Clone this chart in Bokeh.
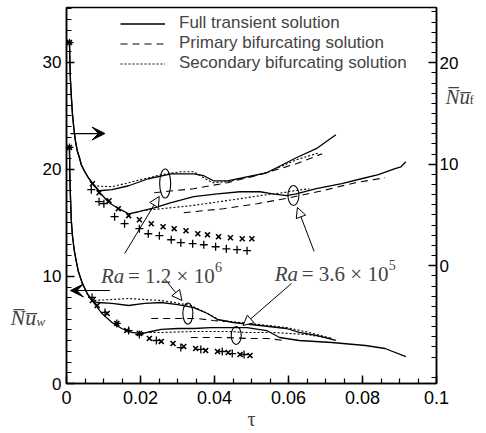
from bokeh.plotting import figure
from bokeh.models import (Range1d, LinearAxis, SingleIntervalTicker, FixedTicker,
                          CustomJSTickFormatter, Legend, LegendItem, Label,
                          Arrow, VeeHead, NormalHead)
from bokeh.embed import file_html
from bokeh.resources import INLINE

# ---------------- data ----------------
x_major_interval = 0.02
left_major_interval = 10
right_major_ticks = [0, 10, 20]
right_minor_ticks = [v for v in range(-11, 26) if v % 10 != 0]

# Nu_f (right axis) -- common early part of the full transient solution
nuf_common_tau = [0.0008, 0.00093, 0.00107, 0.00133, 0.0016, 0.002, 0.0024, 0.0029,
                  0.0035, 0.004, 0.0048, 0.0059, 0.0069]
nuf_common_val = [22.2, 20.0, 18.23, 16.55, 14.98, 13.5, 12.32, 11.33,
                  10.64, 9.95, 9.36, 8.67, 8.18]

# Ra = 1.2e6, Nu_f
nuf_full_hi_tau = [0.0088, 0.0123, 0.0168, 0.0221, 0.0283, 0.0344, 0.0371, 0.0397,
                   0.0435, 0.0477, 0.0541, 0.0621, 0.0675, 0.0728]
nuf_full_hi_val = [7.39, 7.49, 7.88, 8.57, 9.06, 9.06, 8.87, 8.37,
                   8.37, 8.67, 9.16, 10.64, 11.53, 12.91]
nuf_sec_hi_tau = [0.0072, 0.0123, 0.0168, 0.0256, 0.0309, 0.0344, 0.0371, 0.0395,
                  0.0435, 0.0541, 0.0621, 0.0683]
nuf_sec_hi_val = [7.88, 7.78, 8.18, 8.97, 9.26, 9.26, 8.67, 8.18,
                  8.28, 9.16, 10.44, 11.13]
nuf_pri_hi_tau = [0.0237, 0.0344, 0.0435, 0.0531, 0.0621, 0.0691]
nuf_pri_hi_val = [7.19, 7.59, 8.18, 9.06, 10.05, 11.03]

# Ra = 3.6e5, Nu_f
nuf_full_lo_tau = [0.0088, 0.0115, 0.0141, 0.0168, 0.0195, 0.0237, 0.0283, 0.0344,
                   0.0408, 0.0469, 0.0523, 0.0557, 0.0595, 0.0621, 0.0675, 0.0744,
                   0.0797, 0.0843, 0.0888, 0.0904, 0.0917]
nuf_full_lo_val = [7.29, 6.21, 5.62, 5.12, 5.32, 5.71, 6.21, 6.80,
                   7.09, 7.29, 7.29, 7.09, 6.90, 7.09, 7.59, 8.08,
                   8.57, 8.97, 9.56, 9.75, 10.25]
nuf_sec_lo_tau = [0.0203, 0.0229, 0.0336, 0.0469, 0.0541, 0.0584, 0.0616, 0.0656]
nuf_sec_lo_val = [5.42, 5.52, 5.91, 6.60, 7.00, 7.19, 7.39, 7.59]
nuf_pri_lo_tau = [0.0317, 0.0424, 0.0515, 0.0603, 0.0691, 0.0781, 0.0861]
nuf_pri_lo_val = [5.22, 5.62, 6.11, 6.70, 7.39, 8.18, 8.67]

# Nu_f symbols
nuf_x_tau = [0.0008, 0.007, 0.0088, 0.0115, 0.014, 0.0168, 0.0197, 0.0229, 0.0261,
             0.0291, 0.0323, 0.0355, 0.0381, 0.0411, 0.0443, 0.0475, 0.0501]
nuf_x_val = [22.0, 8.08, 7.19, 6.40, 5.62, 4.93, 4.53, 4.14, 3.84,
             3.65, 3.45, 3.15, 3.05, 2.86, 2.76, 2.66, 2.66]
nuf_p_tau = [0.0008, 0.0067, 0.0088, 0.0101, 0.013, 0.0157, 0.0197, 0.0221, 0.0251,
             0.0283, 0.0309, 0.0341, 0.0371, 0.0403, 0.0432, 0.0461, 0.0488]
nuf_p_val = [21.97, 7.49, 6.31, 6.11, 4.83, 4.14, 3.65, 3.15, 2.96,
             2.56, 2.27, 2.17, 2.07, 1.87, 1.67, 1.58, 1.48]

# Nu_w (left axis) -- common early part
nuw_common_tau = [0.0008, 0.0009, 0.0011, 0.0013, 0.0016, 0.0021, 0.0027, 0.0032,
                  0.0043, 0.0056, 0.0069]
nuw_common_val = [22.06, 19.44, 17.10, 15.23, 13.83, 12.43, 11.31, 10.47,
                  9.35, 8.41, 7.76]

# Ra = 1.2e6, Nu_w
nuw_full_hi_tau = [0.0083, 0.0123, 0.0168, 0.0211, 0.0256, 0.0301, 0.0344, 0.0381,
                   0.0408, 0.0451, 0.0523, 0.0595, 0.0629, 0.0675, 0.0728]
nuw_full_hi_val = [7.57, 7.48, 7.29, 7.48, 7.57, 7.38, 7.10, 6.54,
                   5.98, 5.70, 5.42, 5.14, 4.77, 4.49, 4.02]
nuw_sec_hi_tau = [0.0075, 0.0123, 0.0168, 0.0211, 0.0256, 0.0291, 0.0336, 0.0376,
                  0.0416, 0.0523, 0.0595, 0.0656, 0.0717]
nuw_sec_hi_val = [7.76, 7.85, 7.94, 7.85, 7.76, 7.57, 7.29, 6.64,
                  5.89, 5.51, 5.23, 4.77, 4.21]
nuw_pri_hi_tau = [0.0229, 0.0296, 0.0355, 0.0397, 0.0429]
nuw_pri_hi_val = [6.07, 6.07, 6.07, 5.89, 5.79]

# Ra = 3.6e5, Nu_w
nuw_full_lo_tau = [0.0096, 0.0123, 0.0149, 0.0176, 0.0203, 0.0229, 0.0256, 0.0301,
                   0.0344, 0.0389, 0.0435, 0.0488, 0.0541, 0.0576, 0.0629, 0.0717,
                   0.0808, 0.0861, 0.0917]
nuw_full_lo_val = [6.54, 5.70, 5.14, 4.77, 4.67, 4.86, 5.05, 5.14,
                   5.14, 5.23, 5.23, 5.23, 4.95, 4.30, 4.02, 3.83,
                   3.55, 3.27, 2.52]
nuw_sec_lo_tau = [0.0203, 0.0256, 0.0344, 0.0435, 0.0488, 0.0557, 0.0648, 0.0717]
nuw_sec_lo_val = [4.77, 4.77, 4.86, 4.86, 4.77, 4.77, 4.58, 4.21]
nuw_pri_lo_tau = [0.0336, 0.0424, 0.0488, 0.0541, 0.0589]
nuw_pri_lo_val = [4.30, 4.30, 4.21, 4.21, 4.02]

# Nu_w symbols
nuw_x_tau = [0.0008, 0.007, 0.0083, 0.011, 0.0136, 0.0163, 0.0197, 0.0224, 0.0256,
             0.0288, 0.0317, 0.0349, 0.0376, 0.0408, 0.0437, 0.0469, 0.0496]
nuw_x_val = [22.06, 7.76, 7.29, 6.54, 5.61, 4.95, 4.67, 4.21, 3.93,
             3.74, 3.46, 3.27, 3.08, 2.99, 2.90, 2.71, 2.62]
nuw_p_tau = [0.0008, 0.0069, 0.0104, 0.0136, 0.0168, 0.0197, 0.0243, 0.0309,
             0.0363, 0.0421, 0.0448, 0.048]
nuw_p_val = [22.06, 8.04, 6.64, 5.61, 4.95, 4.58, 4.02, 3.36,
             3.18, 2.99, 2.80, 2.71]

legend_labels = ["Full transient solution", "Primary bifurcating solution",
                 "Secondary bifurcating solution"]

# ---------------- figure ----------------
W, H = 486, 433
p = figure(width=W, height=H, output_backend="svg", toolbar_location=None,
           x_range=Range1d(0, 0.1), y_range=Range1d(0, 35.14),
           min_border_left=64, min_border_right=W - 439, min_border_top=7,
           min_border_bottom=H - 383, background_fill_color="white",
           border_fill_color="white")
p.extra_y_ranges = {"right": Range1d(-11.6, 25.44)}
p.grid.visible = False
p.outline_line_color = "black"
p.outline_line_width = 1.5

raxis = LinearAxis(y_range_name="right")
p.add_layout(raxis, "right")

xax = p.xaxis[0]
yax = p.yaxis[0]
xax.ticker = SingleIntervalTicker(interval=x_major_interval, num_minor_ticks=4)
xax.formatter = CustomJSTickFormatter(
    code="return tick.toFixed(2).replace(/0+$/, '').replace(/\\.$/, '');")
yax.ticker = SingleIntervalTicker(interval=left_major_interval, num_minor_ticks=10)
raxis.ticker = FixedTicker(ticks=right_major_ticks, minor_ticks=right_minor_ticks)

for ax in (xax, yax, raxis):
    ax.major_tick_in = 8
    ax.major_tick_out = 0
    ax.minor_tick_in = 5
    ax.minor_tick_out = 0
    ax.axis_line_width = 1.5
    ax.major_tick_line_width = 1.5
    ax.minor_tick_line_width = 1.2
    ax.major_label_text_font = "Liberation Sans"
    ax.major_label_text_font_size = "17px"
    ax.major_label_text_color = "black"
    ax.axis_line_color = "black"
    ax.major_tick_line_color = "black"
    ax.minor_tick_line_color = "black"
xax.major_label_text_font_size = "18px"
xax.major_label_standoff = 7
yax.major_label_standoff = 5
raxis.major_label_standoff = 3

LW = 1.3
SOLID = dict(line_color="black", line_width=LW)
DASH = dict(line_color="black", line_width=1.1, line_dash="7 5")
DOT = dict(line_color="black", line_width=1.1, line_dash="2 2")

# Nu_f curves (right axis)
r_full = p.line(nuf_common_tau + nuf_full_hi_tau, nuf_common_val + nuf_full_hi_val,
                y_range_name="right", **SOLID)
p.line(nuf_common_tau + nuf_full_lo_tau, nuf_common_val + nuf_full_lo_val,
       y_range_name="right", **SOLID)
r_dot = p.line(nuf_sec_hi_tau, nuf_sec_hi_val, y_range_name="right", **DOT)
p.line(nuf_sec_lo_tau, nuf_sec_lo_val, y_range_name="right", **DOT)
r_dash = p.line(nuf_pri_hi_tau, nuf_pri_hi_val, y_range_name="right", **DASH)
p.line(nuf_pri_lo_tau, nuf_pri_lo_val, y_range_name="right", **DASH)
p.scatter(nuf_x_tau, nuf_x_val, marker="x", size=7, line_color="black",
          line_width=1.6, y_range_name="right")
p.scatter(nuf_p_tau, nuf_p_val, marker="cross", size=8, line_color="black",
          line_width=1.3, y_range_name="right")

# Nu_w curves (left axis)
p.line(nuw_common_tau + nuw_full_hi_tau, nuw_common_val + nuw_full_hi_val, **SOLID)
p.line(nuw_common_tau + nuw_full_lo_tau, nuw_common_val + nuw_full_lo_val, **SOLID)
p.line(nuw_sec_hi_tau, nuw_sec_hi_val, **DOT)
p.line(nuw_sec_lo_tau, nuw_sec_lo_val, **DOT)
p.line(nuw_pri_hi_tau, nuw_pri_hi_val, **DASH)
p.line(nuw_pri_lo_tau, nuw_pri_lo_val, **DASH)
p.scatter(nuw_x_tau, nuw_x_val, marker="x", size=7, line_color="black", line_width=1.6)
p.scatter(nuw_p_tau, nuw_p_val, marker="cross", size=8, line_color="black", line_width=1.3)

# ellipses marking the bifurcation points
ell_x = [0.02667, 0.06133, 0.0328, 0.04587]
ell_y = [18.69, 17.57, 6.54, 4.49]
ell_w = [11, 11, 10, 10]
ell_h = [29, 20, 21, 18]
p.ellipse(x=ell_x, y=ell_y, width=ell_w, height=ell_h, width_units="screen",
          height_units="screen", fill_color=None, line_color="black", line_width=1.1)

# axis-pointing arrows
p.add_layout(Arrow(end=VeeHead(size=13, fill_color="black", line_color="black"),
                   x_start=0.00107, y_start=23.36, x_end=0.0104, y_end=23.36,
                   line_width=1.2))
p.add_layout(Arrow(end=VeeHead(size=13, fill_color="black", line_color="black"),
                   x_start=0.01173, y_start=8.69, x_end=0.00107, y_end=8.69,
                   line_width=1.2))
# pointer arrows
for xs, ys, xe, ye in [(0.01573, 12.15, 0.02507, 17.48),
                       (0.02667, 9.72, 0.0312, 7.76),
                       (0.06693, 12.34, 0.0624, 16.45),
                       (0.0608, 9.35, 0.04773, 5.42)]:
    p.add_layout(Arrow(end=NormalHead(size=10, fill_color="white", line_color="black",
                                      line_width=1),
                       x_start=xs, y_start=ys, x_end=xe, y_end=ye, line_width=1))

SERIF = "Liberation Serif"
def ra_label(x, y, mant, expo):
    p.add_layout(Label(x=x, y=y, text="Ra", text_font=SERIF, text_font_style="italic",
                       text_font_size="21px", text_baseline="alphabetic"))
    p.add_layout(Label(x=x, y=y, x_offset=27, text="= " + mant + " × 10", text_font=SERIF,
                       text_font_size="21px", text_baseline="alphabetic"))
    p.add_layout(Label(x=x, y=y, x_offset=114, y_offset=9, text=expo, text_font=SERIF,
                       text_font_size="14px", text_baseline="alphabetic"))

ra_label(0.00933, 10.09, "1.2", "6")
ra_label(0.05627, 10.19, "3.6", "5")

# axis titles, placed in the side panels (canvas units: x from left, y from top)
def clabel(side, x, y, text, size, style="normal", align="left", baseline="alphabetic"):
    p.add_layout(Label(x=x, y=y, x_units="canvas", y_units="canvas", text=text,
                       text_font=SERIF, text_font_style=style, text_font_size=size,
                       text_align=align, text_baseline=baseline), side)

OVER = "\u0305"
clabel("below", 251, 418, "τ", "20px", align="center", baseline="middle")
clabel("left", 10, 317, "N" + OVER + "u" + OVER, "22px", style="italic")
clabel("left", 36, 321, "w", "13px", style="italic")
clabel("left", 469, 99, "f", "13px")
clabel("right", 445, 96, "N" + OVER + "u" + OVER, "21px", style="italic")

legend = Legend(items=[LegendItem(label=legend_labels[0], renderers=[r_full]),
                       LegendItem(label=legend_labels[1], renderers=[r_dash]),
                       LegendItem(label=legend_labels[2], renderers=[r_dot])],
                location=(54, 310), orientation="vertical", glyph_width=45,
                glyph_height=19, label_height=19, spacing=0, padding=0, margin=0,
                label_standoff=14, border_line_color=None, background_fill_alpha=0,
                label_text_font="Liberation Sans", label_text_font_size="17px")
p.add_layout(legend)

open("out.html", "w").write(file_html(p, INLINE))
